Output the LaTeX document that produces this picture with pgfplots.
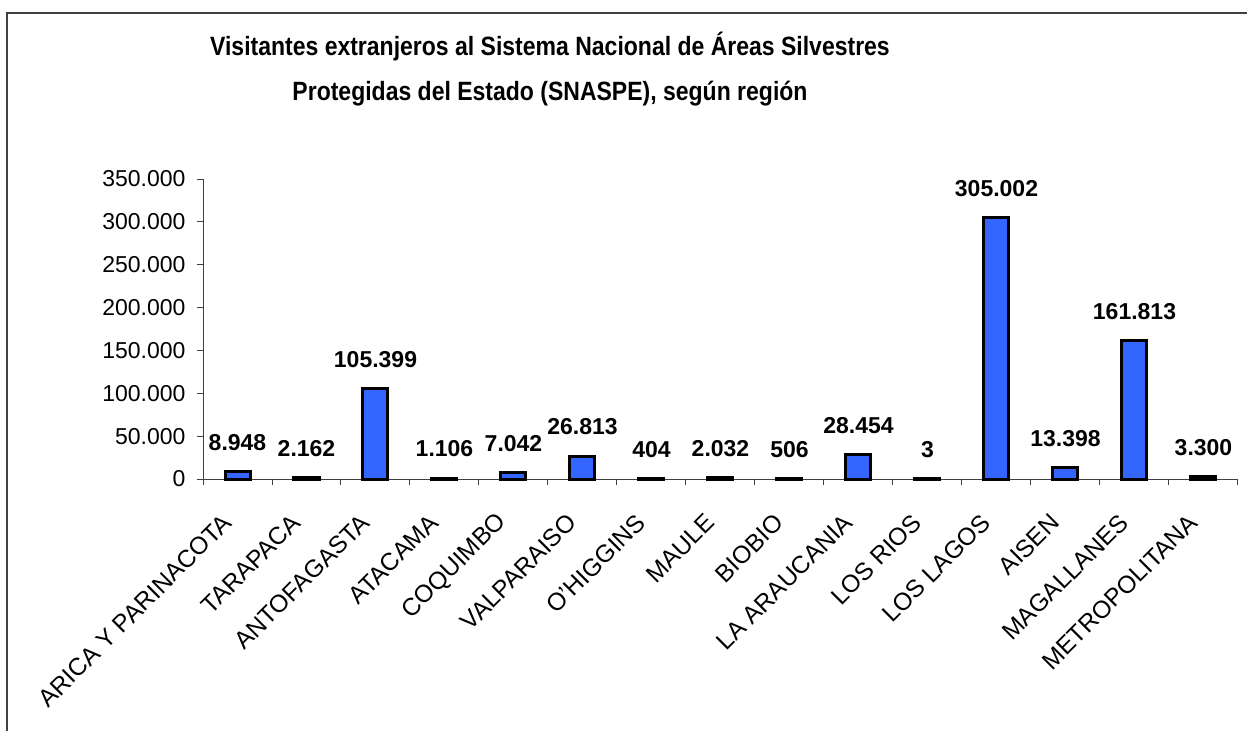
\documentclass[border=0pt]{standalone}
\usepackage{fontspec}
\setmainfont{Liberation Sans}
\usepackage{pgfplots}
\pgfplotsset{compat=1.18}
\definecolor{barblue}{RGB}{51,102,255}
\definecolor{framegray}{RGB}{64,64,64}
\begin{document}
\begin{tikzpicture}[x=1pt,y=1pt]
\useasboundingbox (0,0) rectangle (1247,731);
\draw[framegray, line width=1.5pt] (7,0) -- (7,718) -- (1247,718);
\node[font=\fontsize{23}{28}\selectfont\bfseries, anchor=base, inner sep=0pt, yscale=1.15] at (550,675) {Visitantes extranjeros al Sistema Nacional de Áreas Silvestres};
\node[font=\fontsize{23}{28}\selectfont\bfseries, anchor=base, inner sep=0pt, yscale=1.15] at (550,630) {Protegidas del Estado (SNASPE), según región};
\begin{axis}[
  at={(203pt,252pt)}, anchor=south west,
  scale only axis, width=1035pt, height=300pt,
  xmin=-0.5, xmax=14.5, ymin=0, ymax=350000,
  axis x line*=bottom, axis y line*=left,
  axis line style={black!75, line width=1pt},
  clip=false,
  /pgf/number format/fixed,
  /pgf/number format/precision=0,
  /pgf/number format/1000 sep={.},
  /pgf/number format/assume math mode=true,
  xtick={0,...,14},
  xticklabels={ARICA Y PARINACOTA, TARAPACA, ANTOFAGASTA, ATACAMA, COQUIMBO, VALPARAISO, O'HIGGINS, MAULE, BIOBIO, LA ARAUCANIA, LOS RIOS, LOS LAGOS, AISEN, MAGALLANES, METROPOLITANA},
  minor xtick={-0.5,0.5,...,14.5},
  major x tick style={draw=none},
  minor x tick style={black!75, line width=1pt},
  ytick style={black!75, line width=1pt},
  minor tick length=6pt,
  major tick length=6pt,
  tick align=outside,
  ytick={0,50000,...,350000},
  scaled y ticks=false,
  yticklabel style={font=\fontsize{23}{23}\selectfont, xshift=-8pt},
  xticklabel style={font=\fontsize{24.5}{24.5}\selectfont, xshift=-8pt, yshift=-31pt, rotate=45, anchor=east},
  ybar, bar width=25pt,
  nodes near coords,
  every node near coord/.append style={font=\fontsize{23}{23}\selectfont\bfseries, anchor=center, yshift=29pt, black},
]
\addplot[fill=barblue, draw=black, line width=3pt] coordinates {
(0,8948) (1,2162) (2,105399) (3,1106) (4,7042) (5,26813) (6,404) (7,2032)
(8,506) (9,28454) (10,3) (11,305002) (12,13398) (13,161813) (14,3300)
};
\end{axis}
\end{tikzpicture}
\end{document}
